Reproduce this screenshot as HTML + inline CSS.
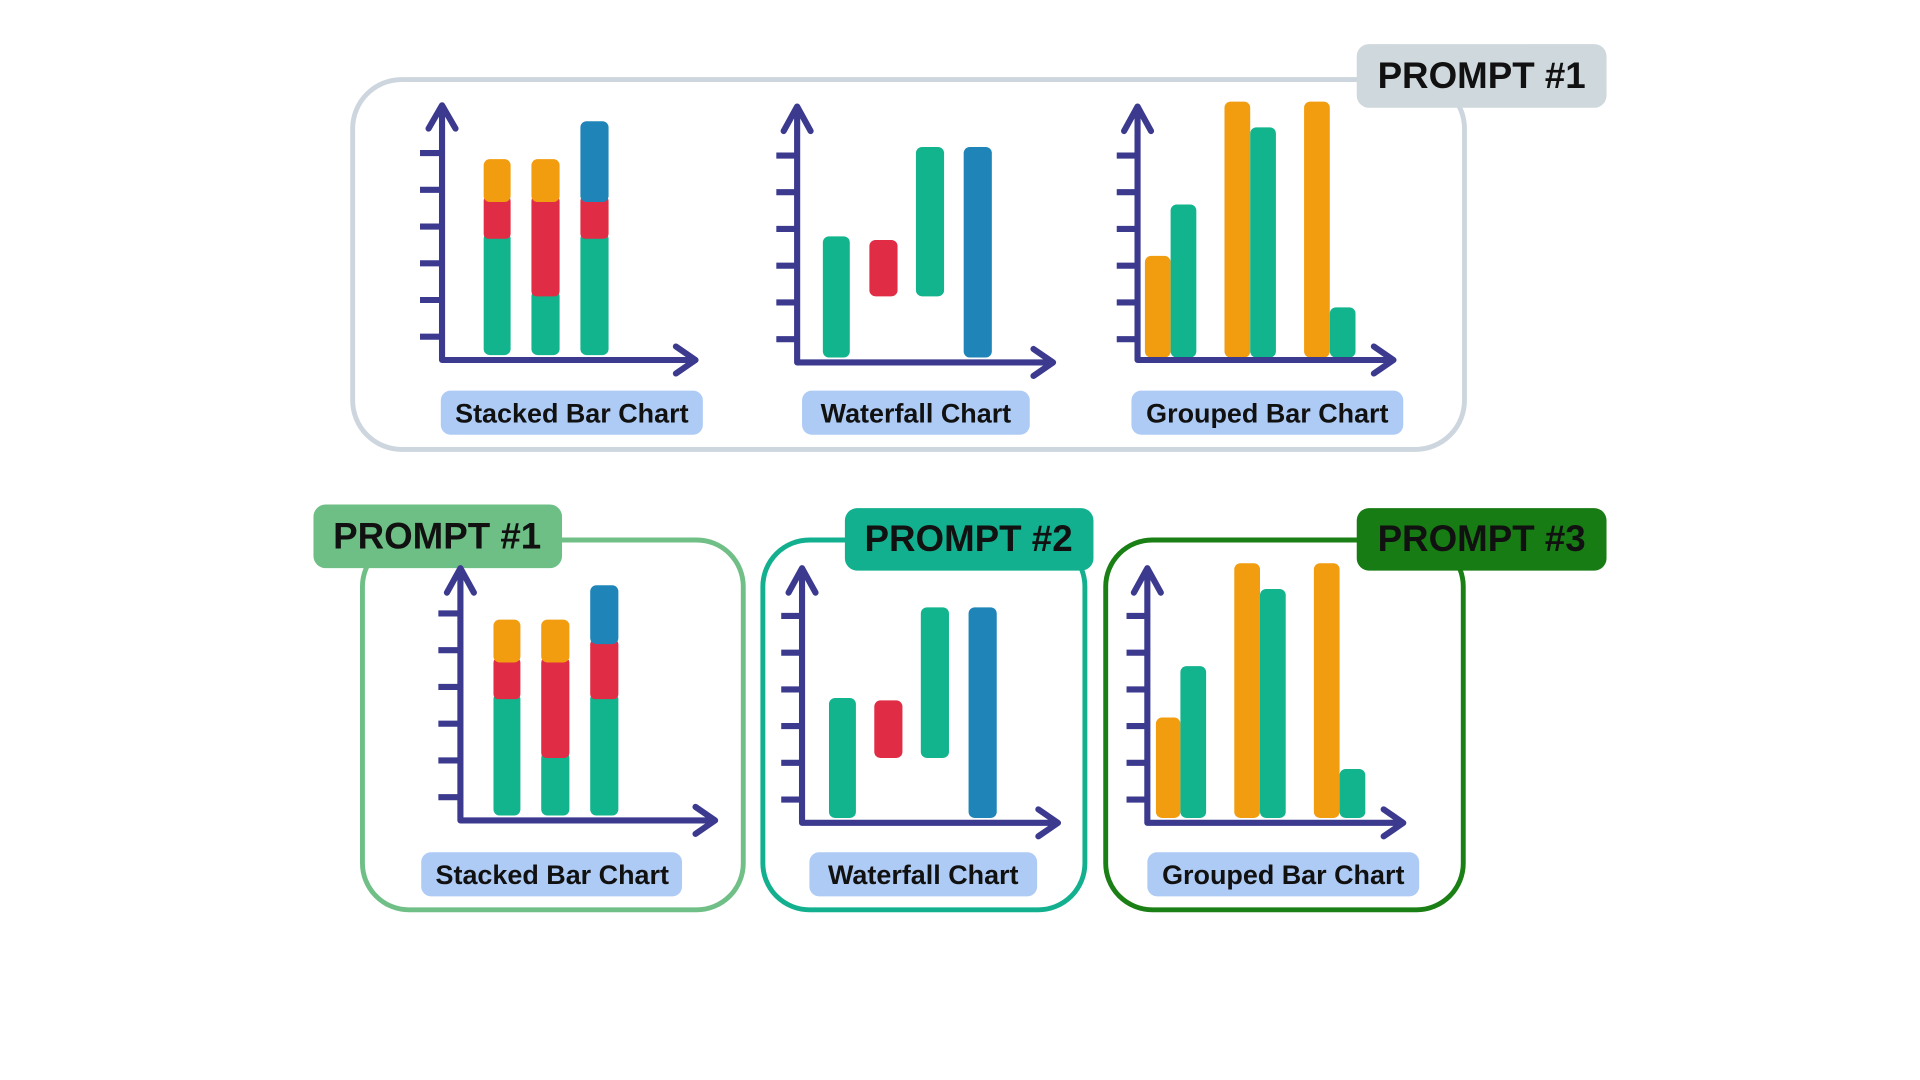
<!DOCTYPE html>
<html><head><meta charset="utf-8"><style>
html,body{margin:0;padding:0;background:#fff;width:1920px;height:1080px;overflow:hidden}
svg{display:block}
text{font-family:"Liberation Sans",sans-serif;font-weight:bold}
.ax{stroke:#3b3a8f;stroke-width:5;fill:none;stroke-linecap:round;stroke-linejoin:round}
.tk{stroke:#3b3a8f;stroke-width:5}
.g{fill:#12b48d}.r{fill:#e02d45}.o{fill:#f29c0f}.b{fill:#1f85b8}
.lb{fill:#aecbf5}
.lt{font-size:22px;fill:#111;text-anchor:middle}
.pt{font-size:30px;fill:#111;text-anchor:middle}
</style></head><body>
<svg width="1920" height="1080" viewBox="0 0 1568 882" xmlns="http://www.w3.org/2000/svg">
<!-- top box -->
<rect x="288" y="65" width="908" height="302" rx="40" fill="none" stroke="#cdd6de" stroke-width="4"/>
<rect x="1108" y="36" width="204" height="52" rx="10" fill="#cfd8dc"/>
<text class="pt" x="1210" y="72">PROMPT #1</text>

<!-- top stacked -->
<g class="tk"><line x1="343" y1="125" x2="361" y2="125"/><line x1="343" y1="155" x2="361" y2="155"/><line x1="343" y1="185" x2="361" y2="185"/><line x1="343" y1="215" x2="361" y2="215"/><line x1="343" y1="245" x2="361" y2="245"/><line x1="343" y1="275" x2="361" y2="275"/></g>
<rect class="g" x="395" y="190" width="22" height="100" rx="5"/><rect class="r" x="395" y="160" width="22" height="35" rx="4"/><rect class="o" x="395" y="130" width="22" height="35" rx="5"/>
<rect class="g" x="434" y="237" width="23" height="53" rx="5"/><rect class="r" x="434" y="160" width="23" height="82" rx="4"/><rect class="o" x="434" y="130" width="23" height="35" rx="5"/>
<rect class="g" x="474" y="190" width="23" height="100" rx="5"/><rect class="r" x="474" y="160" width="23" height="35" rx="4"/><rect class="b" x="474" y="99" width="23" height="66" rx="5"/>
<path class="ax" d="M361 87 V294 H566 M350 105 L361 86 L372 105 M552 283 L568 294 L552 305"/>
<rect class="lb" x="360" y="319" width="214" height="36" rx="8"/><text class="lt" x="467" y="345">Stacked Bar Chart</text>

<!-- top waterfall -->
<g class="tk"><line x1="634" y1="127" x2="651" y2="127"/><line x1="634" y1="157" x2="651" y2="157"/><line x1="634" y1="187" x2="651" y2="187"/><line x1="634" y1="217" x2="651" y2="217"/><line x1="634" y1="247" x2="651" y2="247"/><line x1="634" y1="277" x2="651" y2="277"/></g>
<rect class="g" x="672" y="193" width="22" height="99" rx="5"/><rect class="r" x="710" y="196" width="23" height="46" rx="5"/><rect class="g" x="748" y="120" width="23" height="122" rx="5"/><rect class="b" x="787" y="120" width="23" height="172" rx="5"/>
<path class="ax" d="M651 88 V296 H858 M640 107 L651 87 L662 107 M844 285 L860 296 L844 307"/>
<rect class="lb" x="655" y="319" width="186" height="36" rx="8"/><text class="lt" x="748" y="345">Waterfall Chart</text>

<!-- top grouped -->
<g class="tk"><line x1="912" y1="127" x2="929" y2="127"/><line x1="912" y1="157" x2="929" y2="157"/><line x1="912" y1="187" x2="929" y2="187"/><line x1="912" y1="217" x2="929" y2="217"/><line x1="912" y1="247" x2="929" y2="247"/><line x1="912" y1="277" x2="929" y2="277"/></g>
<rect class="o" x="935" y="209" width="21" height="83" rx="5"/><rect class="g" x="956" y="167" width="21" height="125" rx="5"/>
<rect class="o" x="1000" y="83" width="21" height="209" rx="5"/><rect class="g" x="1021" y="104" width="21" height="188" rx="5"/>
<rect class="o" x="1065" y="83" width="21" height="209" rx="5"/><rect class="g" x="1086" y="251" width="21" height="41" rx="5"/>
<path class="ax" d="M929 88 V294 H1136 M918 107 L929 87 L940 107 M1122 283 L1138 294 L1122 305"/>
<rect class="lb" x="924" y="319" width="222" height="36" rx="8"/><text class="lt" x="1035" y="345">Grouped Bar Chart</text>

<!-- bottom box 1 -->
<rect x="296" y="441" width="311" height="302" rx="38" fill="none" stroke="#70bf87" stroke-width="4"/>
<rect x="256" y="412" width="203" height="52" rx="10" fill="#6dbf85"/>
<text class="pt" x="357" y="448">PROMPT #1</text>
<g class="tk"><line x1="358" y1="501" x2="376" y2="501"/><line x1="358" y1="531" x2="376" y2="531"/><line x1="358" y1="561" x2="376" y2="561"/><line x1="358" y1="591" x2="376" y2="591"/><line x1="358" y1="621" x2="376" y2="621"/><line x1="358" y1="651" x2="376" y2="651"/></g>
<rect class="g" x="403" y="566" width="22" height="100" rx="5"/><rect class="r" x="403" y="537" width="22" height="34" rx="4"/><rect class="o" x="403" y="506" width="22" height="35" rx="5"/>
<rect class="g" x="442" y="614" width="23" height="52" rx="5"/><rect class="r" x="442" y="537" width="23" height="82" rx="4"/><rect class="o" x="442" y="506" width="23" height="35" rx="5"/>
<rect class="g" x="482" y="566" width="23" height="100" rx="5"/><rect class="r" x="482" y="522" width="23" height="49" rx="4"/><rect class="b" x="482" y="478" width="23" height="48" rx="5"/>
<path class="ax" d="M376 465 V670 H582 M365 484 L376 464 L387 484 M568 659 L584 670 L568 681"/>
<rect class="lb" x="344" y="696" width="213" height="36" rx="8"/><text class="lt" x="451" y="722">Stacked Bar Chart</text>

<!-- bottom box 2 -->
<rect x="623" y="441" width="263" height="302" rx="38" fill="none" stroke="#13b08f" stroke-width="4"/>
<rect x="690" y="415" width="203" height="51" rx="10" fill="#13b08f"/>
<text class="pt" x="791" y="450">PROMPT #2</text>
<g class="tk"><line x1="638" y1="503" x2="655" y2="503"/><line x1="638" y1="533" x2="655" y2="533"/><line x1="638" y1="563" x2="655" y2="563"/><line x1="638" y1="593" x2="655" y2="593"/><line x1="638" y1="623" x2="655" y2="623"/><line x1="638" y1="653" x2="655" y2="653"/></g>
<rect class="g" x="677" y="570" width="22" height="98" rx="5"/><rect class="r" x="714" y="572" width="23" height="47" rx="5"/><rect class="g" x="752" y="496" width="23" height="123" rx="5"/><rect class="b" x="791" y="496" width="23" height="172" rx="5"/>
<path class="ax" d="M655 465 V672 H862 M644 484 L655 464 L666 484 M848 661 L864 672 L848 683"/>
<rect class="lb" x="661" y="696" width="186" height="36" rx="8"/><text class="lt" x="754" y="722">Waterfall Chart</text>

<!-- bottom box 3 -->
<rect x="903" y="441" width="292" height="302" rx="38" fill="none" stroke="#1a7f14" stroke-width="4"/>
<rect x="1108" y="415" width="204" height="51" rx="10" fill="#177c13"/>
<text class="pt" x="1210" y="450">PROMPT #3</text>
<g class="tk"><line x1="920" y1="503" x2="937" y2="503"/><line x1="920" y1="533" x2="937" y2="533"/><line x1="920" y1="563" x2="937" y2="563"/><line x1="920" y1="593" x2="937" y2="593"/><line x1="920" y1="623" x2="937" y2="623"/><line x1="920" y1="653" x2="937" y2="653"/></g>
<rect class="o" x="944" y="586" width="20" height="82" rx="5"/><rect class="g" x="964" y="544" width="21" height="124" rx="5"/>
<rect class="o" x="1008" y="460" width="21" height="208" rx="5"/><rect class="g" x="1029" y="481" width="21" height="187" rx="5"/>
<rect class="o" x="1073" y="460" width="21" height="208" rx="5"/><rect class="g" x="1094" y="628" width="21" height="40" rx="5"/>
<path class="ax" d="M937 465 V672 H1144 M926 484 L937 464 L948 484 M1130 661 L1146 672 L1130 683"/>
<rect class="lb" x="937" y="696" width="222" height="36" rx="8"/><text class="lt" x="1048" y="722">Grouped Bar Chart</text>
</svg>
</body></html>
